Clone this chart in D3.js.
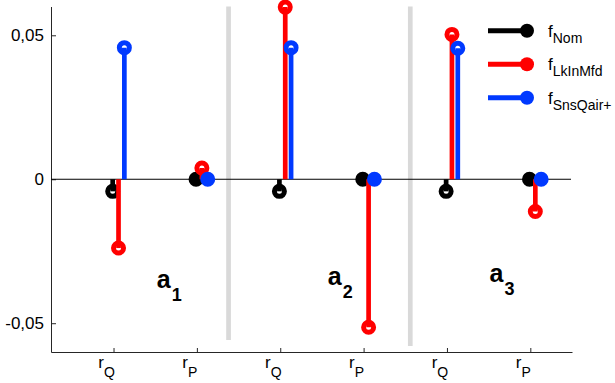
<!DOCTYPE html>
<html>
<head>
<meta charset="utf-8">
<script src="https://cdn.jsdelivr.net/npm/d3@7"></script>
<style>
  body { margin: 0; background: #fff; }
  svg { display: block; font-family: "Liberation Sans", Arial, sans-serif; }
</style>
</head>
<body>
<script>
// tick labels on the x axis: r with a subscript
const tickMain = ['r', 'r', 'r', 'r', 'r', 'r'];
const tickSub = ['Q', 'P', 'Q', 'P', 'Q', 'P'];
const tickValues = [1, 2, 3, 4, 5, 6];

// one value per tick
const fNom = [-0.0042, 0, -0.0042, 0, -0.0042, 0];
const fLkInMfd = [-0.0239, 0.0039, 0.0598, -0.0514, 0.0503, -0.0112];
const fSnsQair = [0.0457, 0, 0.0457, 0, 0.0455, 0];

const seriesNames = ['Nom', 'LkInMfd', 'SnsQair+'];
const seriesColors = ['#000000', '#ff0000', '#0039ff'];

// group labels a1..a3 and the grey separators between groups
const groupSub = ['1', '2', '3'];
const groupLabelX = [1.52, 3.57, 5.51];
const groupLabelY = [-0.0377, -0.0368, -0.0356];
const sepX = [2.38, 4.56];
const sepBottom = [-0.0558, -0.0579];

const yTicks = [-0.05, 0, 0.05];

const width = 615, height = 383;
const svg = d3.select('body').append('svg')
    .attr('width', width)
    .attr('height', height);

const x = d3.scaleLinear().domain([0.25, 6.5]).range([51, 572]);
const y = d3.scaleLinear().domain([-0.06, 0.06]).range([352, 6.5]);

// separators first so everything else sits over them
svg.selectAll('.sep')
    .data(sepX)
    .enter()
    .append('line')
    .attr('class', 'sep')
    .attr('x1', d => x(d))
    .attr('x2', d => x(d))
    .attr('y1', y(0.06))
    .attr('y2', (d, i) => y(sepBottom[i]))
    .attr('stroke', '#d9d9d9')
    .attr('stroke-width', 4.7);

// axes
const fmt = d => d === 0 ? '0' : d.toFixed(2).replace('.', ',');
const yAxis = svg.append('g')
    .attr('transform', `translate(${x(0.25)},0)`)
    .call(d3.axisLeft(y).tickValues(yTicks).tickSize(-5).tickSizeOuter(0).tickPadding(7).tickFormat(fmt));
yAxis.selectAll('text').attr('font-size', 17).attr('fill', '#000').attr('font-family', 'Liberation Sans, Arial, sans-serif');
yAxis.selectAll('line, path').attr('stroke', '#262626');

const xAxis = svg.append('g')
    .attr('transform', `translate(0,${y(-0.06)})`)
    .call(d3.axisBottom(x).tickValues(tickValues).tickSize(-4).tickSizeOuter(0).tickFormat(''));
xAxis.selectAll('line, path').attr('stroke', '#262626');

const xLabels = svg.selectAll('.xlab')
    .data(tickValues)
    .enter()
    .append('text')
    .attr('class', 'xlab')
    .attr('x', d => x(d) - 7)
    .attr('y', 368)
    .attr('text-anchor', 'middle')
    .attr('fill', '#000');
xLabels.append('tspan').attr('font-size', 17).text((d, i) => tickMain[i]);
xLabels.append('tspan').attr('font-size', 14).attr('dy', 9).text((d, i) => tickSub[i]);

// zero line
svg.append('line')
    .attr('x1', x(0.25))
    .attr('x2', x(6.5) - 1)
    .attr('y1', y(0))
    .attr('y2', y(0))
    .attr('stroke', '#000')
    .attr('stroke-width', 1);

// stems, one series after the other
const series = [fNom, fLkInMfd, fSnsQair];
const offsets = [-0.01, 0.06, 0.13];

series.forEach((values, s) => {
    const color = seriesColors[s];
    const g = svg.append('g');
    values.forEach((v, i) => {
        const cx = x(tickValues[i] + offsets[s]);
        g.append('circle')
            .attr('cx', cx)
            .attr('cy', y(v))
            .attr('r', 5)
            .attr('fill', v === 0 ? color : '#fff')
            .attr('stroke', color)
            .attr('stroke-width', 5);
        if (v !== 0) {
            g.append('line')
                .attr('x1', cx)
                .attr('x2', cx)
                .attr('y1', y(0))
                .attr('y2', y(v))
                .attr('stroke', color)
                .attr('stroke-width', 4.7);
        }
    });
});

// group labels
const ann = svg.selectAll('.ann')
    .data(groupSub)
    .enter()
    .append('text')
    .attr('class', 'ann')
    .attr('x', (d, i) => x(groupLabelX[i]))
    .attr('y', (d, i) => y(groupLabelY[i]))
    .attr('font-weight', 'bold')
    .attr('fill', '#000');
ann.append('tspan').attr('font-size', 25).text('a');
ann.append('tspan').attr('font-size', 18).attr('dx', 1).attr('dy', 13).text(d => d);

// legend
const legend = svg.append('g');
seriesNames.forEach((name, i) => {
    const ly = 30.7 + i * 33.5;
    legend.append('line')
        .attr('x1', 488)
        .attr('x2', 527)
        .attr('y1', ly)
        .attr('y2', ly)
        .attr('stroke', seriesColors[i])
        .attr('stroke-width', 5);
    legend.append('circle')
        .attr('cx', 527)
        .attr('cy', ly)
        .attr('r', 7)
        .attr('fill', seriesColors[i]);
    const t = legend.append('text')
        .attr('x', 548)
        .attr('y', ly + 6)
        .attr('fill', '#000');
    t.append('tspan').attr('font-size', 17).text('f');
    t.append('tspan').attr('font-size', 14).attr('dy', 6).text(name);
});
</script>
</body>
</html>
